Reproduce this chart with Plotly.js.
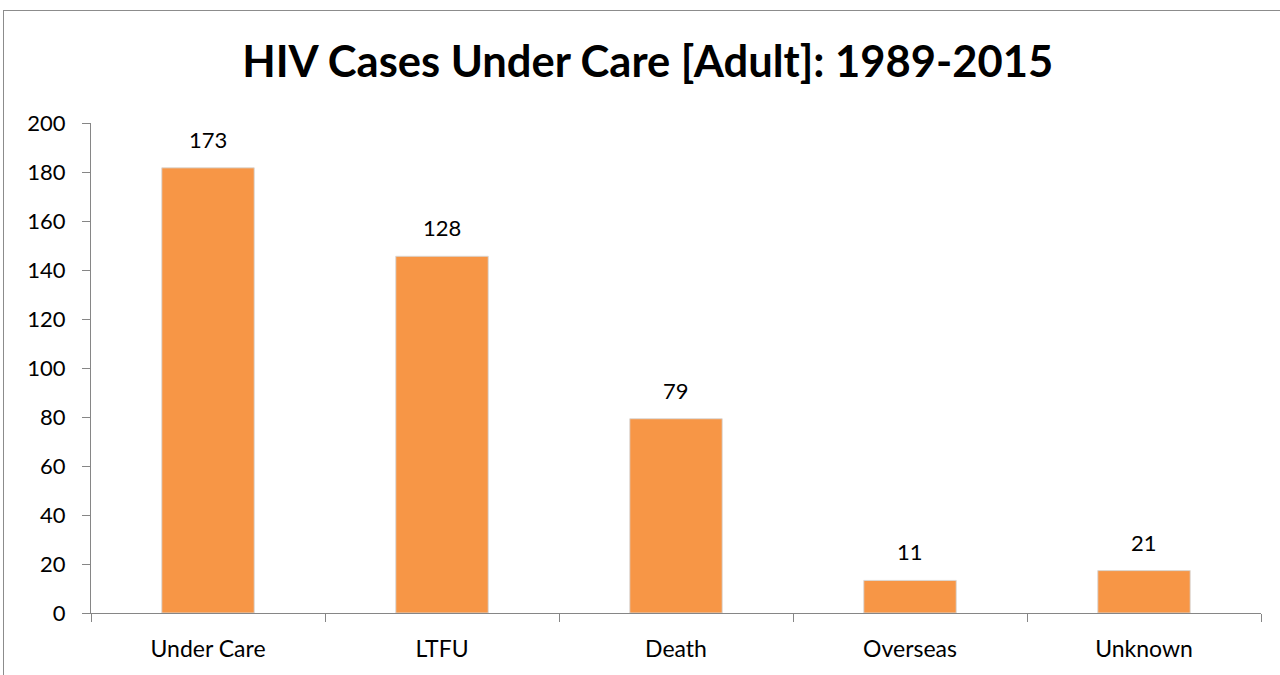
<!DOCTYPE html>
<html>
<head>
<meta charset="utf-8">
<script src="https://cdn.plot.ly/plotly-3.0.1.min.js"></script>
<style>
html,body{margin:0;padding:0;background:#fff;}
#wrap{position:relative;width:1280px;height:675px;overflow:hidden;}
#frame{position:absolute;left:3px;top:10px;width:1290px;height:700px;border-left:1px solid #8c8c8c;border-top:1px solid #8c8c8c;pointer-events:none;}
#chart{position:absolute;left:0;top:0;width:1280px;height:675px;}
</style>
</head>
<body>
<div id="wrap">
<div id="chart"></div>
<div id="frame"></div>
</div>
<script>
const categories = ["Under Care", "LTFU", "Death", "Overseas", "Unknown"];
const barHeights = [181.7, 145.6, 79.3, 13.3, 17.3];
const labelTexts = ["173", "128", "79", "11", "21"];
const yTicks = [0, 20, 40, 60, 80, 100, 120, 140, 160, 180, 200];

const FONT = "Lato, 'Open Sans', sans-serif";

const trace = {
  type: "bar",
  x: categories,
  y: barHeights,
  width: 0.395,
  marker: {color: "#F79646", line: {color: "rgba(215,215,215,0.9)", width: 1}},
  hoverinfo: "skip"
};

const annotations = categories.map((c, i) => ({
  x: c, y: barHeights[i], xref: "x", yref: "y",
  text: labelTexts[i], showarrow: false,
  yanchor: "bottom", yshift: 13,
  font: {family: FONT, size: 22, color: "#000"}
}));

const layout = {
  width: 1280, height: 675,
  margin: {l: 91, r: 19, t: 123, b: 62},
  paper_bgcolor: "#fff", plot_bgcolor: "#fff",
  showlegend: false,
  title: {
    text: "<b>HIV Cases Under Care [Adult]: 1989-2015</b>",
    x: 0.506, xanchor: "center", y: 0.908, yanchor: "middle",
    font: {family: FONT, size: 43.5, color: "#000"}
  },
  xaxis: {
    type: "category",
    showline: true, linecolor: "#868686", linewidth: 1,
    ticks: "outside", tickson: "boundaries", ticklen: 8, tickcolor: "#868686",
    showgrid: false, zeroline: false,
    tickfont: {family: FONT, size: 23, color: "#000"},
    ticklabelstandoff: 15
  },
  yaxis: {
    range: [0, 200],
    tickvals: yTicks, ticktext: yTicks.map(String),
    showline: true, linecolor: "#868686", linewidth: 1,
    ticks: "outside", ticklen: 8, tickcolor: "#868686",
    showgrid: false, zeroline: false,
    tickfont: {family: FONT, size: 22, color: "#000"},
    ticklabelstandoff: 12
  },
  annotations: annotations
};

Plotly.newPlot("chart", [trace], layout, {displayModeBar: false, staticPlot: true});
</script>
</body>
</html>
